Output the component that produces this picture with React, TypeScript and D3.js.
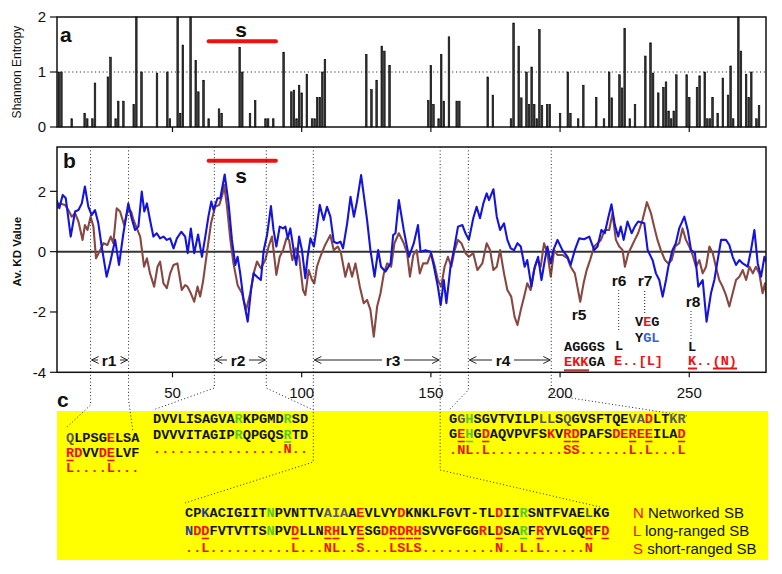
import React from 'react';
import * as d3 from 'd3';

// ---------- data ----------
const entropyResidue = [6,7,11,16,17,19,20,25,26,28,29,31,35,36,38,44,48,49,52,53,54,57,59,60,62,64,68,69,76,77,80,82,86,87,89,93,96,97,98,99,100,102,104,105,106,107,108,109,125,127,129,131,132,134,149,150,151,153,154,155,157,160,161,172,174,181,182,184,185,187,188,189,190,191,192,193,195,196,200,203,204,207,209,214,217,219,220,223,224,225,227,229,233,235,236,238,240,241,242,243,244,245,249,250,253,254,256,257,258,259,261,263,265,266,267,269,270,272,273,274,276,277];
const entropyValue = [1.0,1.0,0.15,0.25,0.15,0.15,0.8,0.91,1.27,0.15,0.47,0.47,0.41,2.0,1.0,0.98,1.0,0.15,2.0,0.25,1.49,2.0,1.21,0.64,0.85,0.15,0.33,0.25,1.45,1.0,0.25,0.48,0.15,0.15,0.15,1.36,0.64,0.67,0.15,0.76,0.62,0.96,0.15,0.15,0.54,0.54,1.0,1.23,1.32,0.68,0.85,1.47,1.38,1.12,0.48,1.12,0.41,0.15,1.32,0.47,1.64,0.47,0.47,0.91,0.58,0.15,1.89,1.47,0.53,1.0,0.41,1.09,0.41,0.15,1.77,0.39,0.41,0.41,0.25,1.0,0.25,0.15,0.76,0.54,0.15,1.0,0.53,0.95,0.71,1.79,0.15,0.41,1.29,1.53,0.98,0.62,0.72,0.82,0.29,0.15,0.29,0.95,0.95,0.54,0.72,0.93,1.0,0.15,0.15,0.54,0.25,0.89,0.58,1.11,0.15,2.0,1.38,0.96,0.54,1.0,0.15,0.39];

const blueResidue = [5.2,6.2,7.5,8.7,10.6,12.3,13.6,14.9,16.1,17.4,18.7,20.0,21.3,22.6,24.5,25.8,27.8,29.3,31.0,32.9,34.2,35.5,36.8,38.1,39.1,40.1,41.3,42.6,43.9,45.2,46.5,47.8,49.1,50.4,51.7,53.4,54.9,55.9,57.1,58.4,59.9,61.4,62.7,63.9,65.0,65.9,67.4,68.5,70.2,71.7,73.0,74.3,75.2,76.2,77.5,79.1,80.4,81.4,82.7,84.2,85.3,86.6,88.1,89.1,90.2,91.5,92.8,93.7,94.6,95.6,97.2,97.9,99.0,100.1,101.4,102.3,103.4,104.7,105.7,107.0,108.5,109.8,111.1,112.4,113.7,115.0,116.0,117.6,118.9,120.2,121.4,123.0,124.3,125.3,126.6,128.2,129.6,130.7,132.4,134.4,135.4,136.3,137.6,139.5,141.5,143.4,145.0,146.0,147.9,149.9,151.2,152.7,153.8,155.0,156.0,157.6,158.9,160.5,162.2,163.4,164.7,166.4,167.7,169.0,170.3,171.6,172.5,174.2,175.5,176.8,178.3,179.6,180.9,182.2,183.5,184.8,186.3,187.3,188.9,190.2,191.5,192.8,194.1,195.1,196.4,197.4,199.0,200.9,202.9,204.1,205.7,207.4,209.3,211.3,213.2,214.5,216.0,217.3,218.6,219.9,221.2,222.5,223.5,224.6,226.1,227.7,228.9,230.2,232.6,233.9,235.8,237.1,238.4,239.7,241.0,241.9,243.5,244.8,246.1,248.1,249.4,250.7,252.2,253.5,255.2,256.7,258.4,259.7,261.0,262.3,264.2,265.5,266.8,268.1,269.4,270.7,272.6,273.9,275.2,276.5,277.8,279.1,280.1];
const blueKD = [1.71,1.44,1.88,1.77,0.5,1.33,1.38,1.6,2.16,1.5,1.21,1.38,0.94,0.17,-0.83,-0.39,0.39,-0.44,0.61,1.6,1.11,0.72,0.83,1.99,1.33,1.6,1.05,0.5,0.61,0.44,0.5,0.39,0.44,0.11,0.44,0.66,0.5,-0.05,0.77,-0.05,0.57,-0.17,0.5,1.16,1.66,1.38,1.77,1.77,2.56,1.6,0.39,-0.44,-0.17,-0.72,-1.6,-2.32,-1.27,-0.72,-0.83,-0.94,0.05,0.55,1.51,0.72,0.17,0.83,0.77,0.83,0.44,0.77,-0.11,-0.44,0.5,0.05,-0.88,-0.17,0.44,0.17,0.72,1.55,1.05,1.49,1.16,0.33,0.28,0.33,0.11,0.94,1.82,1.16,1.66,2.54,1.71,1.05,0.05,-0.83,0.05,-0.5,-0.66,-0.39,0.55,0.61,1.71,0.72,-0.17,0.28,0.88,0.0,0.05,0.0,-0.5,-1.16,-1.77,-0.94,-1.71,-0.5,0.05,0.83,0.88,0.61,0.39,1.11,1.49,1.11,1.6,1.93,1.71,2.07,1.16,0.72,0.94,0.39,0.11,0.05,0.28,0.17,-0.5,-0.28,-1.16,-0.5,-0.17,-0.94,-0.28,0.17,-0.39,0.05,0.39,0.05,-0.17,-0.44,0.05,0.44,0.41,0.5,0.05,0.17,0.72,0.61,1.11,1.57,0.88,0.5,0.83,0.39,1.0,0.61,0.83,1.0,0.94,0.05,-0.28,-0.72,-0.94,-1.49,-0.94,-0.5,0.05,0.28,0.77,1.16,0.72,0.05,-0.05,-1.16,-0.94,-2.32,-1.38,-0.94,-0.28,0.39,0.39,0.22,-0.17,-0.44,-0.28,-0.39,-0.5,0.05,0.72,-0.39,-0.83,-0.17,-0.39];

const brownResidue = [5.2,6.5,8.4,9.7,11.0,12.3,13.6,15.2,16.1,17.1,18.3,19.4,20.4,22.0,23.3,24.8,26.1,27.1,28.4,29.7,31.3,32.7,34.0,34.9,36.2,37.5,39.0,40.1,41.3,42.9,44.2,45.2,46.5,47.8,49.1,50.4,51.9,53.6,54.9,55.8,57.1,58.4,59.7,60.7,61.8,63.3,64.9,66.5,68.1,69.3,70.0,71.1,72.4,73.6,75.2,76.9,78.5,80.1,81.4,82.7,84.2,85.9,87.2,88.5,90.2,91.5,92.8,94.1,95.1,96.4,97.7,99.0,100.5,101.4,102.7,104.0,104.9,105.9,107.2,108.8,110.1,111.1,112.4,114.0,115.2,116.9,118.2,119.5,120.8,122.5,124.0,125.3,126.6,127.9,129.2,130.5,131.8,133.1,134.6,135.9,137.6,139.5,140.8,141.9,143.2,144.5,145.7,147.0,148.6,150.1,151.4,152.7,154.0,155.3,156.6,157.9,159.2,160.5,161.8,163.4,164.7,166.4,168.0,169.9,171.6,172.9,174.2,175.5,176.8,178.3,179.6,181.1,182.4,183.5,184.8,186.1,187.3,188.6,189.9,191.2,192.5,193.8,195.1,196.4,197.7,199.0,200.9,202.9,204.1,205.7,206.7,207.8,209.1,210.3,211.6,213.2,214.5,215.8,217.3,219.0,220.3,221.6,222.9,224.2,225.1,226.4,227.7,228.9,230.2,231.9,233.6,235.2,236.4,237.7,239.0,240.6,241.9,243.2,244.5,246.1,247.4,248.7,250.0,251.3,252.6,253.9,255.2,256.5,257.8,259.1,260.3,261.6,262.9,264.2,265.5,266.8,268.1,269.4,270.7,272.0,273.3,274.6,275.8,277.1,278.4,279.3,280.1];
const brownKD = [1.44,1.6,1.55,1.38,1.16,1.27,1.0,0.39,0.88,0.72,1.16,0.83,-0.22,0.05,0.28,0.22,0.5,0.28,1.44,1.33,0.88,1.38,1.33,1.05,0.77,0.5,-0.5,-0.22,-0.72,-1.16,-0.5,-0.33,-1.05,-1.21,-0.72,-0.44,-0.39,-1.27,-1.11,-1.16,-1.38,-1.66,-1.16,-1.49,-1.0,-0.05,0.94,1.49,1.55,1.88,2.21,1.49,0.39,-0.39,-1.11,-1.38,-1.93,-1.38,-0.72,-0.33,-0.55,-0.28,0.17,0.5,-0.77,-0.17,0.05,0.44,0.39,-0.28,0.11,-0.17,-1.27,-1.44,-0.61,-0.94,-1.05,-0.5,-0.17,0.17,0.39,0.55,0.05,0.17,-0.05,-0.83,-0.39,-0.83,-0.39,-1.16,-1.71,-1.6,-1.93,-2.82,-1.82,-1.38,-0.72,-0.39,-0.5,0.28,0.61,0.28,-0.05,-0.83,-0.11,0.05,-0.72,-0.39,-0.39,-0.05,-0.44,-0.94,-1.16,-0.5,-0.17,-0.5,0.05,0.39,0.28,-0.05,-0.17,-0.05,-0.61,-0.39,0.28,0.05,-0.61,-0.5,0.05,-0.72,-1.27,-1.49,-2.16,-2.43,-1.93,-1.49,-1.05,-1.27,-0.61,-0.28,-0.5,0.28,-0.05,-0.83,0.05,-0.11,-0.11,-0.22,-0.5,-0.72,-1.16,-1.66,-1.05,-0.61,-0.28,0.17,0.28,0.39,0.72,0.72,1.27,0.39,0.17,0.05,-0.5,-0.05,0.17,0.39,0.61,1.05,1.64,1.27,0.83,0.39,0.05,-0.28,-0.39,-0.28,0.17,0.28,0.77,0.39,0.17,-0.11,-0.5,-0.28,-0.72,-0.5,0.17,-0.05,-0.5,-0.94,-1.16,-1.44,-1.82,-1.38,-0.94,-0.83,-0.61,-0.94,-0.5,-0.72,-0.5,-0.72,-1.38,-1.05,-1.6];

const regionBounds = [18.3, 33, 66.2, 86.3, 104.5, 153.6, 164.5, 196.6];
const regionLabels = ['r1', 'r2', 'r3', 'r4'];
const sRange = [64, 90];
const xTicks = [50, 100, 150, 200, 250];
const entropyTicks = [0, 1, 2];
const kdTicks = [2, 0, -2, -4];

// sequence groups (text, colour codes per character)
const g1Rows = ['QLPSGELSA', 'RDVVDELVF', 'L....L...'];
const g1Codes = ['skkkkrkkk', 'rrkkrrkkk', 'rrrrrrrrr'];
const g1Under = [0, 5];

const g2Rows = ['DVVLISAGVARKPGMDRSD', 'DVVVITAGIPRQPGQSRTD', '................N..'];
const g2Codes = ['kkkkkkkkkkgkkkkkgkk', 'kkkkkkkkkkgkkkkkgkk', 'rrrrrrrrrrrrrrrrrrr'];
const g2Under = [16];

const g3Rows = ['GGHSGVTVILPLLSQGVSFTQEVADLTKR', 'GEHGDAQVPVFSKVRDPAFSDEREEILAD', '.NL.L.........SS......L.L...L'];
const g3Codes = ['ksgkkkkkkkksskskkkkkkkssrkkss', 'krgkrkkkkkkkrkrrkkkkrrrrrkkkr', 'rrrrrrrrrrrrrrrrrrrrrrrrrrrrr'];
const g3Under = [1, 2, 4, 14, 15, 22, 24, 28];

const g4Rows = [
  'CPKACIGIITNPVNTTVAIAAEVLVYDKNKLFGVT-TLDIIRSNTFVAELKG',
  'NDDFVTVTTSNPVDLLNRHLYESGDRDRHSVVGFGGRLDSARFRYVLGQRFD',
  '..L..........L...NL..S...LSLS.........N..L.L.....N'
];
const g4Codes = [
  'kkbkkkkkkkgkkkkkkssskrkkkkrkkkkkkkkkkkrkkgkkkkkkkskk',
  'brrkkkkkkkgkkrkkkrrkkrkkrrrrrkkkkkkkrkrkkgkrkkkkkrkr',
  'rrrrrrrrrrrrrrrrrrrrrrrrrrrrrrrrrrrrrrrrrrrrrrrrrr'
];
const g4Under = [2, 13, 17, 18, 21, 25, 26, 27, 28, 38, 41, 43, 49, 51];

const legendKeys = ['N', 'L', 'S'];
const legendText = ['Networked SB', 'long-ranged SB', 'short-ranged SB'];

const COL: Record<string, string> = {
  k: '#111111', r: '#ee1111', g: '#55cc22', b: '#2a3d8f', s: '#5a5a5a', u: '#3a62c8'
};

// ---------- layout ----------
const W = 782, H = 574;
const L = 57, R = 766;
const topT = 17, topB = 127;
const midT = 147, midB = 372.3;
const CW = 8.16;
const MONO = '"Liberation Mono", "Courier New", monospace';
const SANS = '"Liberation Sans", Arial, sans-serif';

function SeqGroup({ x0, baselines, rows, codes, under }: any) {
  return (
    <g fontFamily={MONO} fontWeight="bold" fontSize={13.6}>
      {rows.map((row: string, ri: number) =>
        row.split('').map((ch, i) => (
          <text key={ri + '-' + i} x={x0 + i * CW} y={baselines[ri]} fill={COL[codes[ri][i]]}>{ch}</text>
        ))
      )}
      {under.map((i: number) => (
        <line key={'u' + i} x1={x0 + i * CW + 0.5} x2={x0 + (i + 1) * CW - 0.5}
          y1={baselines[1] + 3.5} y2={baselines[1] + 3.5}
          stroke={COL[codes[1][i]] === COL.k ? COL.r : COL[codes[1][i]]} strokeWidth={1.6} />
      ))}
    </g>
  );
}

function Arrow({ x1, x2, y }: any) {
  const d = x2 > x1 ? 1 : -1;
  return (
    <g stroke="#222" strokeWidth={1} fill="none">
      <line x1={x1} x2={x2} y1={y} y2={y} />
      <path d={`M${x2 - d * 7},${y - 3.5} L${x2},${y} L${x2 - d * 7},${y + 3.5}`} />
    </g>
  );
}

export default function App() {
  const x = d3.scaleLinear().domain([5.3, 279.7]).range([L, R]);
  const yE = d3.scaleLinear().domain([0, 2]).range([topB, topT]);
  const yK = d3.scaleLinear().domain([-4, 3.47]).range([midB, midT]);

  const line = d3.line<[number, number]>().x(d => x(d[0])).y(d => yK(d[1]));
  const blue = line(blueResidue.map((r, i) => [r, blueKD[i]] as [number, number]));
  const brown = line(brownResidue.map((r, i) => [r, brownKD[i]] as [number, number]));

  const bx = regionBounds.map(b => x(b));
  const dot = { stroke: '#222', strokeWidth: 1, strokeDasharray: '1 2.4', fill: 'none' };

  const connectors = [
    `M${bx[0]},${midT} L${bx[0]},405 L66,428`,
    `M${bx[1]},${midT} L${bx[1]},400 L133,432`,
    `M${bx[2]},${midT} L${bx[2]},388 L153,410`,
    `M${bx[3]},${midT} L${bx[3]},388 L${bx[4]},410`,
    `M${bx[4]},${midT} L${bx[4]},462 L185,503`,
    `M${bx[5]},${midT} L${bx[5]},470 L600,507`,
    `M${bx[6]},${midT} L${bx[6]},390 L449,410`,
    `M${bx[7]},${midT} L${bx[7]},395 L688,416`,
  ];

  const rLabelX = [109, 238, 393, 503];

  return (
    <svg width={W} height={H} style={{ position: 'absolute', left: 0, top: 0, background: '#fff' }}
      xmlns="http://www.w3.org/2000/svg">
      <defs>
        <clipPath id="midclip"><rect x={L} y={midT} width={R - L} height={midB - midT} /></clipPath>
      </defs>
      <rect x={0} y={0} width={W} height={H} fill="#fff" />

      <rect x={57} y={411} width={711} height={149} fill="#ffff00" />

      {/* ---------- panel a ---------- */}
      <line x1={L} x2={R} y1={yE(1)} y2={yE(1)} stroke="#333" strokeWidth={1.2} strokeDasharray="1.2 2.6" />
      {entropyResidue.map((r, i) => (
        <rect key={i} x={x(r) - 0.8} y={yE(entropyValue[i])} width={1.6}
          height={yE(0) - yE(entropyValue[i])} fill="#333" stroke="#000" strokeWidth={0.6} />
      ))}
      <rect x={L} y={topT} width={R - L} height={topB - topT} fill="none" stroke="#111" strokeWidth={1.5} />
      {entropyTicks.map(t => (
        <g key={t}>
          <line x1={L - 7} x2={L} y1={yE(t)} y2={yE(t)} stroke="#111" strokeWidth={1.2} />
          <text x={46} y={yE(t)} dy="0.36em" textAnchor="end" fontFamily={SANS} fontSize={15} fill="#111">{t}</text>
        </g>
      ))}
      {xTicks.map(t => (
        <line key={t} x1={x(t)} x2={x(t)} y1={topB} y2={topB + 5} stroke="#111" strokeWidth={1.2} />
      ))}
      <text transform={`translate(21,${(topT + topB) / 2}) rotate(-90)`} textAnchor="middle"
        fontFamily={SANS} fontSize={12} fill="#111">Shannon Entropy</text>
      <text x={60} y={42} fontFamily={SANS} fontWeight="bold" fontSize={21} fill="#111">a</text>
      <line x1={x(sRange[0])} x2={x(sRange[1])} y1={41.3} y2={41.3} stroke="#ee1111" strokeWidth={4} strokeLinecap="round" />
      <text x={241} y={37} textAnchor="middle" fontFamily={SANS} fontWeight="bold" fontSize={21} fill="#111">s</text>

      {/* ---------- panel b ---------- */}
      <line x1={L} x2={R} y1={yK(0)} y2={yK(0)} stroke="#333" strokeWidth={2} />
      <g clipPath="url(#midclip)">
        <path d={brown || ''} fill="none" stroke="#874842" strokeWidth={2.1} strokeLinejoin="round" />
        <path d={blue || ''} fill="none" stroke="#1414dc" strokeWidth={2.1} strokeLinejoin="round" />
      </g>
      <rect x={L} y={midT} width={R - L} height={midB - midT} fill="none" stroke="#111" strokeWidth={1.5} />
      {kdTicks.map(t => (
        <g key={t}>
          <line x1={L - 7} x2={L} y1={yK(t)} y2={yK(t)} stroke="#111" strokeWidth={1.2} />
          <text x={46} y={yK(t)} dy="0.36em" textAnchor="end" fontFamily={SANS} fontSize={15} fill="#111">{t}</text>
        </g>
      ))}
      {xTicks.map(t => (
        <g key={t}>
          <line x1={x(t)} x2={x(t)} y1={midB} y2={midB + 5} stroke="#111" strokeWidth={1.2} />
          <text x={x(t)} y={398} textAnchor="middle" fontFamily={SANS} fontSize={15} fill="#111">{t}</text>
        </g>
      ))}
      <text transform={`translate(21,${yK(0)}) rotate(-90)`} textAnchor="middle"
        fontFamily={SANS} fontWeight="bold" fontSize={11.5} fill="#111">Av. KD Value</text>
      <text x={63} y={168} fontFamily={SANS} fontWeight="bold" fontSize={21} fill="#111">b</text>
      <line x1={x(sRange[0])} x2={x(sRange[1])} y1={160.7} y2={160.7} stroke="#ee1111" strokeWidth={4} strokeLinecap="round" />
      <text x={241} y={183} textAnchor="middle" fontFamily={SANS} fontWeight="bold" fontSize={21} fill="#111">s</text>

      {connectors.map((d, i) => <path key={i} d={d} {...dot} />)}

      {regionLabels.map((lab, i) => (
        <g key={lab}>
          <text x={rLabelX[i]} y={366} textAnchor="middle" fontFamily={SANS} fontWeight="bold" fontSize={15.5} fill="#111">{lab}</text>
          <Arrow x1={rLabelX[i] - 11} x2={bx[2 * i] + 1} y={360} />
          <Arrow x1={rLabelX[i] + 11} x2={bx[2 * i + 1] - 1} y={360} />
        </g>
      ))}

      <g fontFamily={SANS} fontWeight="bold" fontSize={15.5} fill="#111" textAnchor="middle">
        <text x={579} y={320}>r5</text>
        <text x={619} y={286}>r6</text>
        <text x={645} y={286}>r7</text>
        <text x={693} y={307}>r8</text>
      </g>
      <line x1={618.7} x2={618.7} y1={290} y2={332} stroke="#334" strokeWidth={1} strokeDasharray="1 2" />
      <line x1={644.7} x2={644.7} y1={291} y2={313} stroke="#111" strokeWidth={1} strokeDasharray="1 2" />
      <line x1={691} x2={691} y1={311} y2={341} stroke="#334" strokeWidth={1} strokeDasharray="1 2" />
      <g fontFamily={MONO} fontWeight="bold" fontSize={13.6}>
        <text x={564} y={351} fill={COL.k}>AGGGS</text>
        <text x={564} y={366}><tspan fill={COL.r}>EKK</tspan><tspan fill={COL.k}>GA</tspan></text>
        <text x={615} y={350} fill={COL.k}>L</text>
        <text x={614} y={365} fill={COL.r}>E..[L]</text>
        <text x={635} y={326}><tspan fill={COL.k}>V</tspan><tspan fill={COL.r}>E</tspan><tspan fill={COL.k}>G</tspan></text>
        <text x={635} y={342}><tspan fill={COL.k}>Y</tspan><tspan fill={COL.u}>GL</tspan></text>
        <text x={688} y={351} fill={COL.k}>L</text>
        <text x={688} y={365} fill={COL.r}>K..(N)</text>
      </g>
      <line x1={564} x2={589} y1={370.5} y2={370.5} stroke="#b33a3a" strokeWidth={2.5} />
      <line x1={688} x2={697} y1={368.5} y2={368.5} stroke="#ee1111" strokeWidth={2} />
      <line x1={713} x2={737} y1={368.5} y2={368.5} stroke="#ee1111" strokeWidth={2} />

      {/* ---------- panel c ---------- */}
      <text x={57} y={407} fontFamily={SANS} fontWeight="bold" fontSize={21} fill="#111">c</text>
      <SeqGroup x0={66} baselines={[442, 457, 472]} rows={g1Rows} codes={g1Codes} under={g1Under} />
      <SeqGroup x0={153} baselines={[423, 438.5, 453]} rows={g2Rows} codes={g2Codes} under={g2Under} />
      <SeqGroup x0={449} baselines={[423, 438, 454]} rows={g3Rows} codes={g3Codes} under={g3Under} />
      <SeqGroup x0={185} baselines={[517, 535, 552]} rows={g4Rows} codes={g4Codes} under={g4Under} />

      {legendKeys.map((k, i) => (
        <text key={k} x={633} y={518 + i * 18} fontFamily={SANS} fontSize={15} fill="#111">
          <tspan fill="#ee1111">{k}</tspan> {legendText[i]}
        </text>
      ))}
    </svg>
  );
}
